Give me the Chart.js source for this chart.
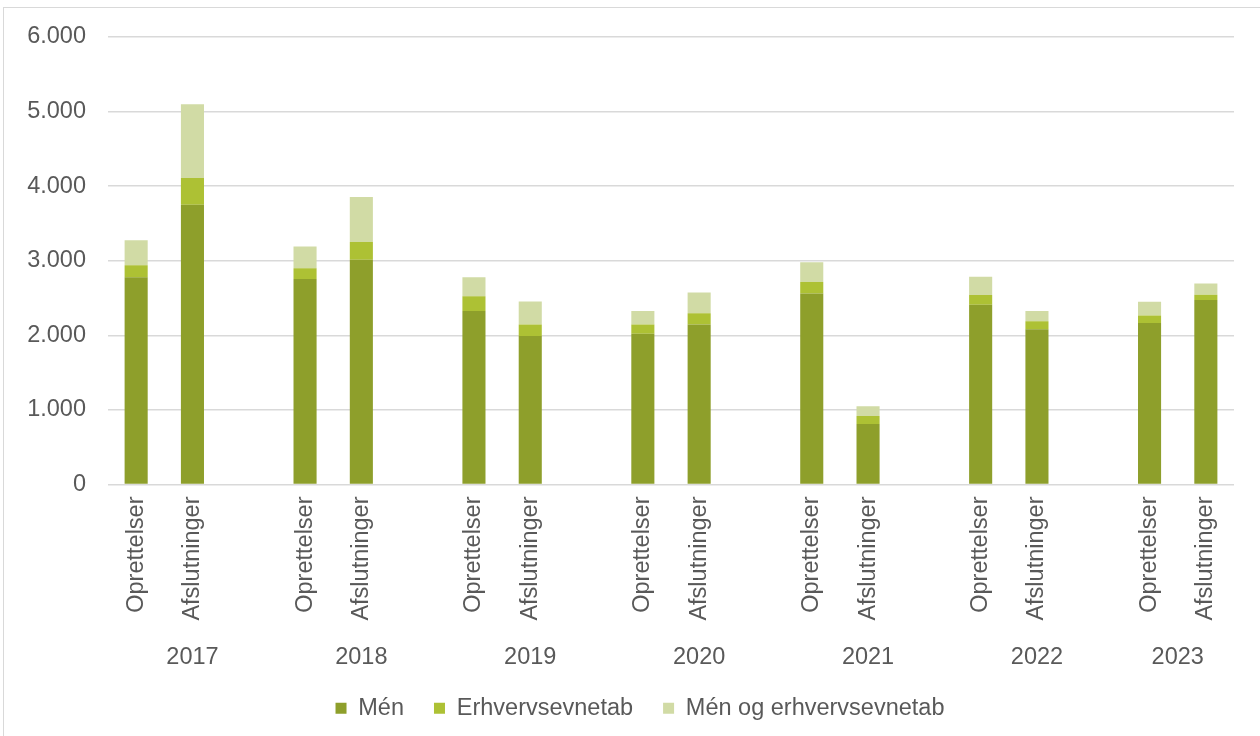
<!DOCTYPE html>
<html>
<head>
<meta charset="utf-8">
<script src="https://cdn.jsdelivr.net/npm/chart.js@4/dist/chart.umd.min.js"></script>
<style>
    html, body { margin: 0; padding: 0; background: #fff; overflow: hidden; }
    #frame {
        position: absolute;
        left: 3px;
        top: 7px;
        width: 1256px;
        height: 760px;
        border: 1px solid #d9d9d9;
    }
    canvas { display: block; }
</style>
</head>
<body>
<div id="frame">
    <canvas id="sagerChart" width="1256" height="760"></canvas>
</div>
<script>
// Data
const years = ['2017', '2018', '2019', '2020', '2021', '2022', '2023'];
const phases = ['Oprettelser', 'Afslutninger'];

// one value per bar: [Oprettelser, Afslutninger] for each year
const men = [2780, 3750, 2755, 3015, 2325, 1990, 2020, 2145, 2560, 810, 2410, 2080, 2165, 2475];
const erhvervsevnetab = [160, 360, 145, 235, 200, 155, 125, 150, 155, 110, 130, 110, 100, 70];
const menOgErhverv = [335, 990, 290, 605, 255, 310, 180, 280, 265, 130, 245, 135, 185, 150];

const yTicks = [0, 1000, 2000, 3000, 4000, 5000, 6000];

// Excel layout: an empty slot between years, none after the last year
const labels = [];
const groups = [];
function spread(values) {
    const out = [];
    years.forEach(function (y, i) {
        phases.forEach(function (p, j) { out.push(values[i * phases.length + j]); });
        if (i < years.length - 1) out.push(null);
    });
    return out;
}
years.forEach(function (y, i) {
    const start = labels.length;
    phases.forEach(function (p) { labels.push(p); });
    if (i < years.length - 1) labels.push('');
    groups.push({ year: y, first: start, last: labels.length - 1 });
});

const FONT = '"Liberation Sans", Arial, sans-serif';
const TEXT = '#595959';

// draws the year row under the rotated category labels
const yearLabels = {
    id: 'yearLabels',
    afterDraw(chart) {
        const x = chart.scales.x;
        const ctx = chart.ctx;
        ctx.save();
        ctx.font = '23.5px ' + FONT;
        ctx.fillStyle = TEXT;
        ctx.textAlign = 'center';
        ctx.textBaseline = 'middle';
        groups.forEach(function (g) {
            const cx = (x.getPixelForValue(g.first) + x.getPixelForValue(g.last)) / 2;
            ctx.fillText(g.year, cx, x.top + 173);
        });
        ctx.restore();
    }
};

const ctx = document.getElementById('sagerChart').getContext('2d');

new Chart(ctx, {
    type: 'bar',
    data: {
        labels: labels,
        datasets: [
            { label: 'Mén', data: spread(men), backgroundColor: '#8e9f2b' },
            { label: 'Erhvervsevnetab', data: spread(erhvervsevnetab), backgroundColor: '#adc134' },
            { label: 'Mén og erhvervsevnetab', data: spread(menOgErhverv), backgroundColor: '#d1dba5' }
        ]
    },
    options: {
        responsive: false,
        animation: false,
        barPercentage: 0.41,
        categoryPercentage: 1,
        layout: {
            padding: { top: 29, left: 23, right: 7, bottom: 38 }
        },
        plugins: {
            legend: {
                position: 'bottom',
                labels: {
                    boxWidth: 11,
                    boxHeight: 11,
                    padding: 30,
                    color: TEXT,
                    font: { size: 23.5, family: FONT }
                }
            },
            tooltip: { enabled: false }
        },
        scales: {
            x: {
                stacked: true,
                grid: { display: false },
                border: { display: false },
                ticks: {
                    color: TEXT,
                    font: { size: 23.5, family: FONT },
                    minRotation: 90,
                    maxRotation: 90,
                    padding: 4,
                    autoSkip: false
                },
                afterFit(scale) {
                    scale.height = 182;
                }
            },
            y: {
                stacked: true,
                min: 0,
                max: 6000,
                afterBuildTicks(scale) {
                    scale.ticks = yTicks.map(function (v) { return { value: v }; });
                },
                afterFit(scale) {
                    scale.width = 81;
                },
                grid: {
                    color: '#d9d9d9',
                    lineWidth: 1.5,
                    drawTicks: true,
                    tickLength: 22,
                    tickColor: 'rgba(0,0,0,0)'
                },
                border: { display: false },
                ticks: {
                    color: TEXT,
                    padding: 0,
                    font: { size: 23.5, family: FONT },
                    callback: function (v) {
                        return String(v).replace(/\B(?=(\d{3})+(?!\d))/g, '.');
                    }
                }
            },
            // empty right-hand margin, keeps the legend centred like the reference
            spacer: {
                type: 'linear',
                position: 'right',
                grid: { display: false },
                border: { display: false },
                ticks: { display: false },
                afterFit(scale) {
                    scale.width = 19;
                }
            }
        }
    },
    plugins: [yearLabels]
});
</script>
</body>
</html>
